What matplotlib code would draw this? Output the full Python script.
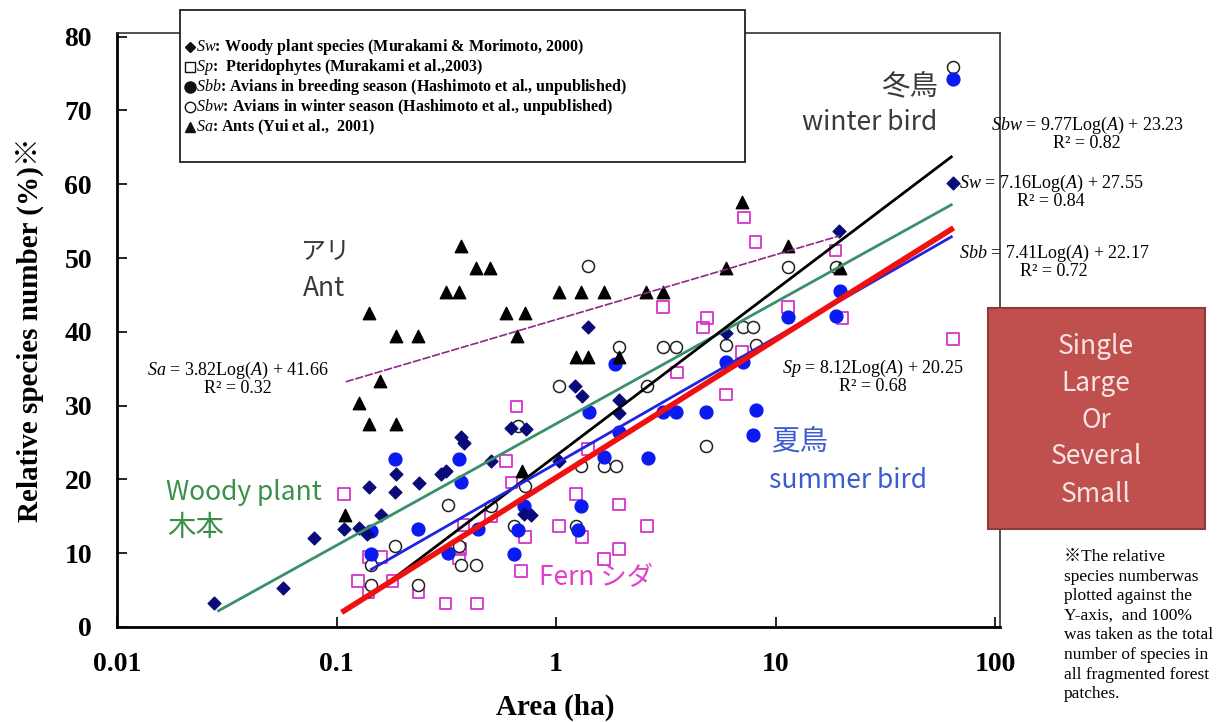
import numpy as np
import matplotlib.pyplot as plt
from matplotlib.patches import Rectangle
from matplotlib.lines import Line2D

plt.rcParams['mathtext.fontset'] = 'custom'
plt.rcParams['mathtext.rm'] = 'Liberation Serif'
plt.rcParams['mathtext.it'] = 'Liberation Serif:italic'
plt.rcParams['mathtext.bf'] = 'Liberation Serif:bold'

# Sw: woody plants (diamonds)
sw_area = [0.0276, 0.057, 0.0786, 0.108, 0.126, 0.138, 0.14, 0.16, 0.184, 0.186,
           0.238, 0.30, 0.316, 0.37, 0.38, 0.507, 0.62, 0.73, 0.71, 0.77,
           1.03, 1.22, 1.31, 1.40, 1.93, 1.93, 5.93, 19.5, 64]
sw_rel = [3.3, 5.3, 12.0, 13.3, 13.4, 12.6, 19.0, 15.2, 18.3, 20.7,
          19.5, 20.7, 21.2, 25.7, 25.0, 22.5, 27.0, 26.9, 15.3, 15.2,
          22.5, 32.6, 31.3, 40.6, 30.7, 29.0, 39.8, 53.6, 60.2]

# Sp: pteridophytes (open squares)
sp_area = [0.108, 0.125, 0.14, 0.14, 0.16, 0.18, 0.236, 0.313, 0.437, 0.378,
           0.365, 0.362, 0.506, 0.59, 0.625, 0.66, 0.69, 0.72, 1.03, 1.23,
           1.31, 1.40, 1.65, 1.93, 1.93, 2.59, 3.06, 3.55, 4.66, 4.85,
           5.93, 7.0, 7.15, 8.1, 11.4, 18.7, 20.1, 64]
sp_rel = [18.0, 6.2, 4.7, 9.5, 9.5, 6.2, 4.7, 3.2, 3.2, 13.8,
          10.6, 9.3, 15.0, 22.5, 19.6, 29.9, 7.6, 12.2, 13.7, 18.0,
          12.2, 24.1, 9.2, 10.6, 16.6, 13.7, 43.4, 34.5, 40.6, 41.9,
          31.5, 37.3, 55.5, 52.2, 43.4, 51.0, 41.9, 39.0]

# Sbb: birds, breeding season (filled circles)
sbb_area = [0.143, 0.143, 0.184, 0.236, 0.32, 0.362, 0.37, 0.44, 0.64, 0.67,
            0.71, 1.26, 1.30, 1.41, 1.65, 1.85, 1.93, 2.62, 3.06, 3.51,
            4.8, 5.95, 7.1, 8.1, 7.85, 11.4, 18.9, 19.7, 64]
sbb_rel = [13.0, 9.9, 22.7, 13.3, 10.0, 22.7, 19.6, 13.3, 9.9, 13.1,
           16.4, 13.1, 16.4, 29.2, 23.0, 35.7, 26.4, 22.9, 29.2, 29.2,
           29.2, 35.9, 35.9, 29.4, 26.0, 42.0, 42.1, 45.5, 74.3]

# Sbw: birds, winter season (open circles)
sbw_area = [0.143, 0.143, 0.184, 0.236, 0.32, 0.36, 0.37, 0.43, 0.507, 0.64,
            0.67, 0.72, 1.03, 1.23, 1.30, 1.40, 1.65, 1.87, 1.93, 2.59,
            3.06, 3.51, 4.8, 5.95, 7.1, 7.85, 8.1, 11.4, 18.9, 64]
sbw_rel = [8.4, 5.7, 11.0, 5.7, 16.5, 11.0, 8.4, 8.4, 16.4, 13.7,
           27.2, 19.1, 32.6, 13.7, 21.8, 48.9, 21.8, 21.8, 38.0, 32.6,
           38.0, 38.0, 24.5, 38.2, 40.7, 40.7, 38.2, 48.8, 48.8, 75.9]

# Sa: ants (triangles)
sa_area = [0.109, 0.126, 0.14, 0.14, 0.158, 0.186, 0.186, 0.235, 0.316, 0.36,
           0.37, 0.43, 0.50, 0.59, 0.66, 0.72, 0.70, 1.03, 1.30, 1.65,
           1.23, 1.40, 1.93, 2.57, 3.06, 5.93, 7.0, 11.4, 19.7]
sa_rel = [15.2, 30.3, 42.6, 27.5, 33.4, 39.5, 27.5, 39.5, 45.4, 45.4,
          51.6, 48.6, 48.6, 42.6, 39.5, 42.6, 21.2, 45.4, 45.4, 45.4,
          36.6, 36.6, 36.6, 45.4, 45.4, 48.6, 57.6, 51.7, 48.6]

# regression lines: y = slope * ln(A) + intercept, drawn over [x_from, x_to]
fit_names = ['Sw', 'Sbw', 'Sbb', 'Sp', 'Sa']
fit_slope = [7.16, 9.77, 7.41, 8.12, 3.82]
fit_icept = [27.55, 23.23, 22.17, 20.25, 41.66]
fit_r2 = [0.84, 0.82, 0.72, 0.68, 0.32]
fit_from = [0.029, 0.14, 0.144, 0.108, 0.11]
fit_to = [63, 63, 63, 63, 19.5]

W, H = 1219, 722
fig = plt.figure(figsize=(W / 100, H / 100), dpi=100)
ax = fig.add_axes([117 / W, 1 - 627 / H, (1000 - 117) / W, (627 - 33) / H])
ax.set_xscale('log')
ax.set_xlim(0.01, 105)
ax.set_ylim(0, 80.5)


def ftext(px, py, s, **kw):
    return fig.text(px / W, 1 - py / H, s, **kw)


# markers
ax.scatter(sp_area, sp_rel, marker='s', s=70, facecolors='none',
           edgecolors='#D633CC', linewidths=1.3, zorder=3)
ax.scatter(sbw_area, sbw_rel, marker='o', s=75, facecolors='white',
           edgecolors='#222222', linewidths=1.1, zorder=3)
ax.scatter(sbb_area, sbb_rel, marker='o', s=85, color='#0A1AF0', zorder=3)
ax.scatter(sw_area, sw_rel, marker='D', s=42, color='#0A0A78', zorder=4)
ax.scatter(sa_area, sa_rel, marker='^', s=80, color='black', zorder=4)

# trend lines
line_style = {
    'Sw': dict(color='#3A9068', lw=2.0),
    'Sbw': dict(color='black', lw=2.0),
    'Sbb': dict(color='#1F24E0', lw=2.0),
    'Sp': dict(color='#F01010', lw=4.0),
    'Sa': dict(color='#8A2A8A', lw=1.2, ls=(0, (5, 1))),
}
for name, a, b, x0, x1 in zip(fit_names, fit_slope, fit_icept, fit_from, fit_to):
    xs = np.geomspace(x0, x1, 60)
    ax.plot(xs, a * np.log(xs) + b, zorder=5, **line_style[name])

ax.set_xticks([0.01, 0.1, 1, 10, 100])
ax.set_xticklabels(['0.01', '0.1', '1', '10', '100'])
ax.set_yticks(range(0, 81, 10))
ax.minorticks_off()
ax.tick_params(direction='in', length=7, width=1.2, pad=18)
for lab in ax.get_xticklabels() + ax.get_yticklabels():
    lab.set_fontfamily('Liberation Serif')
    lab.set_fontweight('bold')
    lab.set_fontsize(20)
for sp in ax.spines.values():
    sp.set_linewidth(1.2)
    sp.set_color('#333333')
ax.spines['left'].set_linewidth(2)
ax.spines['bottom'].set_linewidth(2)
ax.spines['left'].set_color('black')
ax.spines['bottom'].set_color('black')

ftext(555, 707, 'Area (ha)', ha='center', va='center', fontsize=21,
      fontweight='bold', family='Liberation Serif')
ftext(30, 330, 'Relative species number (%)※', ha='center', va='center',
      rotation=90, fontsize=21, fontweight='bold',
      family=['Liberation Serif', 'Noto Sans CJK JP'])

# legend box
fig.add_artist(Rectangle((180 / W, 1 - 162 / H), 565 / W, 152 / H,
                         transform=fig.transFigure, fc='white', ec='#222222',
                         lw=1.3, zorder=6))
legend_rows = [
    ('D', dict(color='#111111', ms=5.5), r'$\mathit{Sw}$: Woody plant species (Murakami & Morimoto, 2000)'),
    ('s', dict(mfc='white', mec='#111111', ms=7, mew=1), r'$\mathit{Sp}$:  Pteridophytes (Murakami et al.,2003)'),
    ('o', dict(color='#111111', ms=8), r'$\mathit{Sbb}$: Avians in breeding season (Hashimoto et al., unpublished)'),
    ('o', dict(mfc='white', mec='#111111', ms=7.5, mew=1), r'$\mathit{Sbw}$: Avians in winter season (Hashimoto et al., unpublished)'),
    ('^', dict(color='#111111', ms=7.5), r'$\mathit{Sa}$: Ants (Yui et al.,  2001)'),
]
for i, (mk, mkw, label) in enumerate(legend_rows):
    py = 47 + i * 20
    fig.add_artist(Line2D([190 / W], [1 - py / H], marker=mk, ls='none',
                          transform=fig.transFigure, zorder=7, **mkw))
    ftext(196, py, label, va='center', ha='left', fontsize=11.5,
          fontweight='bold', family='Liberation Serif', zorder=7)

# equations
eqs = [
    (1087, 125, r'$\mathit{Sbw}$ = 9.77Log($\mathit{A}$) + 23.23', 'R² = 0.82'),
    (1051, 183, r'$\mathit{Sw}$ = 7.16Log($\mathit{A}$) + 27.55', 'R² = 0.84'),
    (1054, 253, r'$\mathit{Sbb}$ = 7.41Log($\mathit{A}$) + 22.17', 'R² = 0.72'),
    (873, 368, r'$\mathit{Sp}$ = 8.12Log($\mathit{A}$) + 20.25', 'R² = 0.68'),
    (238, 370, r'$\mathit{Sa}$ = 3.82Log($\mathit{A}$) + 41.66', 'R² = 0.32'),
]
for px, py, e1, e2 in eqs:
    ftext(px, py, e1, ha='center', va='center', fontsize=13,
          family='Liberation Serif', zorder=7)
    ftext(px, py + 18.5, e2, ha='center', va='center', fontsize=13,
          family='Liberation Serif', zorder=7)

# group labels
jp = ['Noto Sans CJK JP']
ftext(910, 86, '冬鳥', ha='center', va='center', fontsize=20.5, color='#3a3a3a', family=jp)
ftext(870, 122, 'winter bird', ha='center', va='center', fontsize=19, color='#3a3a3a', family=jp)
ftext(326, 252, 'アリ', ha='center', va='center', fontsize=18, color='#3a3a3a', family=jp)
ftext(324, 288, 'Ant', ha='center', va='center', fontsize=19, color='#3a3a3a', family=jp)
ftext(244, 493, 'Woody plant', ha='center', va='center', fontsize=19, color='#3A9048', family=jp)
ftext(196, 528, '木本', ha='center', va='center', fontsize=20.5, color='#3A9048', family=jp)
ftext(800, 442, '夏鳥', ha='center', va='center', fontsize=20.5, color='#3A5CD0', family=jp)
ftext(848, 480, 'summer bird', ha='center', va='center', fontsize=19, color='#3A5CD0', family=jp)
ftext(596, 578, 'Fern シダ', ha='center', va='center', fontsize=19, color='#E040C8', family=jp)

# SLOSS box
fig.add_artist(Rectangle((988 / W, 1 - 529 / H), 217 / W, 221 / H,
                         transform=fig.transFigure, fc='#C0504D', ec='#8E3B38',
                         lw=1.5, zorder=6))
for i, word in enumerate(['Single', 'Large', 'Or', 'Several', 'Small']):
    ftext(1096, 346 + i * 37, word, ha='center', va='center', fontsize=19,
          color='#F6E4E4', family=jp, zorder=7)

note_lines = ['※The relative', 'species numberwas', 'plotted against the',
              'Y-axis,  and 100%', 'was taken as the total', 'number of species in',
              'all fragmented forest', 'patches.']
for i, line in enumerate(note_lines):
    ftext(1064, 557 + i * 19.6, line, ha='left', va='center', fontsize=12.5,
          family=['Liberation Serif', 'Noto Sans CJK JP'])

fig.savefig('out.png', dpi=100)
